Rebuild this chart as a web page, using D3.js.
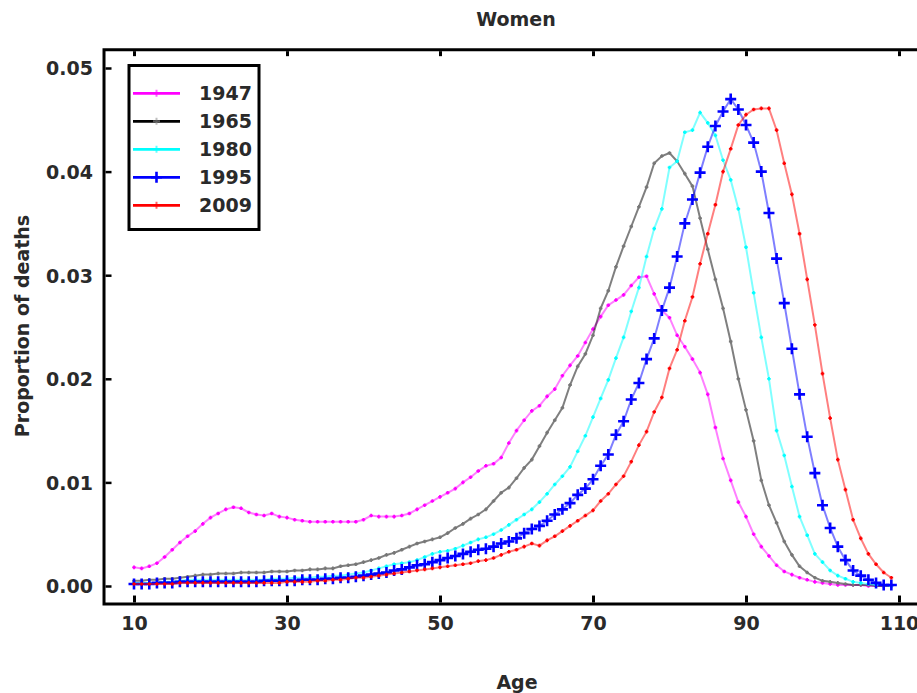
<!DOCTYPE html>
<html>
<head>
<meta charset="utf-8">
<script src="https://cdn.jsdelivr.net/npm/d3@7"></script>
<style>
  html, body { margin: 0; padding: 0; background: #fff; }
  svg text { font-family: "DejaVu Sans", sans-serif; font-size: 19px; font-weight: bold; fill: #2a2a2a; }
</style>
</head>
<body>
<svg id="chart" width="917" height="693"></svg>
<script>
// ages 10..109, one value per year
const ages = d3.range(10, 110);

const deaths1947 = [
  0.0018, 0.0017, 0.0019, 0.0022, 0.0028, 0.0035, 0.0042, 0.0048, 0.0053, 0.0060,
  0.0066, 0.0070, 0.0074, 0.0076, 0.0075, 0.0071, 0.0069, 0.0068, 0.0070, 0.0067,
  0.0066, 0.0064, 0.0063, 0.0062, 0.0062, 0.0062, 0.0062, 0.0062, 0.0062, 0.0062,
  0.0064, 0.0068, 0.0067, 0.0067, 0.0067, 0.0068, 0.0070, 0.0074, 0.0078, 0.0082,
  0.0086, 0.0090, 0.0094, 0.0100, 0.0105, 0.0111, 0.0116, 0.0118, 0.0124, 0.0138,
  0.0150, 0.0160, 0.0169, 0.0174, 0.0183, 0.0190, 0.0203, 0.0213, 0.0222, 0.0235,
  0.0248, 0.0260, 0.0271, 0.0276, 0.0281, 0.0290, 0.0298, 0.0299, 0.0282, 0.0266,
  0.0259, 0.0242, 0.0231, 0.0219, 0.0206, 0.0185, 0.0153, 0.0123, 0.0102, 0.0081,
  0.0067, 0.0050, 0.0038, 0.0029, 0.0020, 0.0014, 0.0011, 0.0008, 0.0006, 0.0004,
  0.0003, 0.0002, 0.0001, 0.0001, 0.0001, 0.0001, 0.0000, 0.0000, 0.0000, 0.0000
];

const deaths1965 = [
  0.0005, 0.0005, 0.0006, 0.0006, 0.0007, 0.0007, 0.0008, 0.0009, 0.0010, 0.0011,
  0.0011, 0.0012, 0.0012, 0.0012, 0.0013, 0.0013, 0.0013, 0.0013, 0.0014, 0.0014,
  0.0014, 0.0015, 0.0015, 0.0016, 0.0016, 0.0017, 0.0017, 0.0019, 0.0020, 0.0021,
  0.0023, 0.0025, 0.0027, 0.0030, 0.0032, 0.0035, 0.0038, 0.0041, 0.0043, 0.0045,
  0.0047, 0.0051, 0.0056, 0.0060, 0.0065, 0.0069, 0.0074, 0.0082, 0.0090, 0.0095,
  0.0104, 0.0114, 0.0122, 0.0135, 0.0148, 0.0160, 0.0172, 0.0194, 0.0212, 0.0224,
  0.0242, 0.0268, 0.0285, 0.0308, 0.0328, 0.0347, 0.0366, 0.0385, 0.0408, 0.0415,
  0.0418, 0.0410, 0.0398, 0.0386, 0.0355, 0.0325, 0.0296, 0.0268, 0.0236, 0.0200,
  0.0170, 0.0140, 0.0102, 0.0078, 0.0061, 0.0043, 0.0030, 0.0019, 0.0013, 0.0008,
  0.0005, 0.0004, 0.0003, 0.0002, 0.0001, 0.0001, 0.0001, 0.0000, 0.0000, 0.0000
];

const deaths1980 = [
  0.0003, 0.0003, 0.0003, 0.0003, 0.0004, 0.0004, 0.0005, 0.0006, 0.0006, 0.0006,
  0.0006, 0.0006, 0.0006, 0.0006, 0.0006, 0.0006, 0.0006, 0.0006, 0.0007, 0.0007,
  0.0007, 0.0008, 0.0008, 0.0008, 0.0009, 0.0009, 0.0010, 0.0010, 0.0011, 0.0012,
  0.0013, 0.0015, 0.0017, 0.0019, 0.0021, 0.0022, 0.0023, 0.0025, 0.0028, 0.0031,
  0.0033, 0.0034, 0.0036, 0.0039, 0.0042, 0.0045, 0.0047, 0.0050, 0.0054, 0.0059,
  0.0064, 0.0069, 0.0074, 0.0081, 0.0089, 0.0098, 0.0106, 0.0115, 0.0130, 0.0145,
  0.0163, 0.0181, 0.0199, 0.0220, 0.0240, 0.0265, 0.0288, 0.0318, 0.0345, 0.0364,
  0.0404, 0.0410, 0.0438, 0.0440, 0.0457, 0.0447, 0.0435, 0.0411, 0.0392, 0.0364,
  0.0327, 0.0283, 0.0240, 0.0200, 0.0150, 0.0126, 0.0096, 0.0067, 0.0049, 0.0031,
  0.0023, 0.0015, 0.0010, 0.0007, 0.0004, 0.0003, 0.0002, 0.0001, 0.0001, 0.0000
];

const deaths1995 = [
  0.0002, 0.0002, 0.0002, 0.0003, 0.0003, 0.0003, 0.0004, 0.0004, 0.0004, 0.0004,
  0.0004, 0.0004, 0.0004, 0.0004, 0.0004, 0.0004, 0.0004, 0.0005, 0.0005, 0.0005,
  0.0005, 0.0005, 0.0006, 0.0006, 0.0006, 0.0007, 0.0007, 0.0008, 0.0008, 0.0009,
  0.0010, 0.0011, 0.0012, 0.0013, 0.0015, 0.0016, 0.0018, 0.0020, 0.0021, 0.0023,
  0.0025, 0.0027, 0.0029, 0.0031, 0.0033, 0.0035, 0.0036, 0.0038, 0.0041, 0.0043,
  0.0046, 0.0051, 0.0055, 0.0058, 0.0063, 0.0069, 0.0074, 0.0080, 0.0088, 0.0094,
  0.0103, 0.0116, 0.0127, 0.0146, 0.0159, 0.0180, 0.0196, 0.0219, 0.0239, 0.0266,
  0.0288, 0.0318, 0.0350, 0.0373, 0.0399, 0.0424, 0.0444, 0.0458, 0.0470, 0.0460,
  0.0445, 0.0428, 0.0400, 0.0360, 0.0316, 0.0273, 0.0229, 0.0185, 0.0144, 0.0109,
  0.0078, 0.0056, 0.0038, 0.0025, 0.0015, 0.0010, 0.0006, 0.0003, 0.0001, 0.0001
];

const deaths2009 = [
  0.0002, 0.0002, 0.0002, 0.0002, 0.0002, 0.0002, 0.0003, 0.0003, 0.0003, 0.0003,
  0.0003, 0.0003, 0.0003, 0.0003, 0.0003, 0.0003, 0.0003, 0.0003, 0.0003, 0.0003,
  0.0004, 0.0004, 0.0004, 0.0004, 0.0005, 0.0005, 0.0006, 0.0006, 0.0007, 0.0008,
  0.0008, 0.0009, 0.0010, 0.0011, 0.0012, 0.0013, 0.0014, 0.0015, 0.0016, 0.0017,
  0.0018, 0.0019, 0.0020, 0.0021, 0.0022, 0.0024, 0.0025, 0.0027, 0.0030, 0.0033,
  0.0035, 0.0038, 0.0041, 0.0039, 0.0044, 0.0048, 0.0053, 0.0058, 0.0063, 0.0068,
  0.0073, 0.0082, 0.0089, 0.0098, 0.0106, 0.0120, 0.0136, 0.0149, 0.0168, 0.0182,
  0.0210, 0.0228, 0.0256, 0.0279, 0.0311, 0.0340, 0.0368, 0.0400, 0.0422, 0.0445,
  0.0455, 0.0460, 0.0461, 0.0461, 0.0440, 0.0408, 0.0378, 0.0340, 0.0296, 0.0252,
  0.0205, 0.0162, 0.0122, 0.0093, 0.0064, 0.0046, 0.0031, 0.0021, 0.0013, 0.0008
];

const years = ['1947', '1965', '1980', '1995', '2009'];
const colors = ['#ff00ff', '#000000', '#00ffff', '#0000ff', '#ff0000'];
const markerColors = ['#ff00ff', '#777777', '#00ffff', '#0000ff', '#ff0000'];
const xTicks = [10, 30, 50, 70, 90, 110];
const yTicks = [0, 0.01, 0.02, 0.03, 0.04, 0.05];

const series = years.map((yr, i) => ({
  year: yr,
  color: colors[i],
  markerColor: markerColors[i],
  big: yr === '1995',
  values: [deaths1947, deaths1965, deaths1980, deaths1995, deaths2009][i]
    .map((v, j) => ({ age: ages[j], v: v }))
}));

const svg = d3.select('#chart');

const x = d3.scaleLinear().domain([10, 110]).range([134, 899]);
const y = d3.scaleLinear().domain([0, 0.05]).range([586, 68]);

// frame: left, top and bottom (right side is cut off by the picture edge)
const xMin = 6.08, xMax = 114.5, yMin = -0.00174, yMax = 0.05177;
svg.append('path')
  .attr('d', `M${x(xMax)},${y(yMax)}H${x(xMin)}V${y(yMin)}H${x(xMax)}`)
  .attr('fill', 'none')
  .attr('stroke', '#000')
  .attr('stroke-width', 3);

// y axis
const yAxis = svg.append('g')
  .attr('transform', `translate(${x(xMin)},0)`)
  .call(d3.axisLeft(y).tickValues(yTicks).tickFormat(d3.format('.2f'))
    .tickSize(-6).tickPadding(11));
yAxis.select('.domain').remove();
yAxis.selectAll('.tick line').attr('stroke-width', 2.5).attr('transform', 'translate(1.5,0)');
yAxis.selectAll('.tick text').attr('font-size', null).attr('font-family', null).attr('dy', '0.36em');

// x axis (bottom) + top ticks
const xAxis = svg.append('g')
  .attr('transform', `translate(0,${y(yMin)})`)
  .call(d3.axisBottom(x).tickValues(xTicks).tickFormat(d3.format('d'))
    .tickSize(-7).tickPadding(12));
xAxis.select('.domain').remove();
xAxis.selectAll('.tick line').attr('stroke-width', 3).attr('transform', 'translate(0,-1.5)');
xAxis.selectAll('.tick text').attr('font-size', null).attr('font-family', null);

const xTop = svg.append('g')
  .attr('transform', `translate(0,${y(yMax)})`)
  .call(d3.axisTop(x).tickValues(xTicks).tickFormat('').tickSize(-5));
xTop.select('.domain').remove();
xTop.selectAll('.tick line').attr('stroke-width', 3).attr('transform', 'translate(0,1.5)');

// lines
const line = d3.line().x(d => x(d.age)).y(d => y(d.v));

const plusPath = (s) => `M${-s},0H${s}M0,${-s}V${s}`;

series.forEach(s => {
  const g = svg.append('g').attr('class', 'series');
  g.append('path')
    .datum(s.values)
    .attr('d', line)
    .attr('fill', 'none')
    .attr('stroke', s.color)
    .attr('stroke-opacity', 0.5)
    .attr('stroke-width', 2);
  g.selectAll('path.mark')
    .data(s.values)
    .enter()
    .append('path')
    .attr('class', 'mark')
    .attr('transform', d => `translate(${x(d.age)},${y(d.v)})`)
    .attr('d', plusPath(s.big ? 5.5 : 1.8))
    .attr('fill', 'none')
    .attr('stroke', s.markerColor)
    .attr('stroke-width', s.big ? 2.6 : 1.8);
});

// legend
const legend = svg.append('g').attr('transform', 'translate(129,65.5)');
legend.append('rect')
  .attr('width', 130)
  .attr('height', 164)
  .attr('fill', '#fff')
  .attr('stroke', '#000')
  .attr('stroke-width', 3);

series.forEach((s, i) => {
  const row = legend.append('g').attr('transform', `translate(0,${27.8 + i * 28})`);
  row.append('line')
    .attr('x1', 4).attr('x2', 51)
    .attr('stroke', s.color)
    .attr('stroke-width', 2.7);
  row.append('path')
    .attr('transform', 'translate(27.5,0)')
    .attr('d', plusPath(s.big ? 5.5 : 3.5))
    .attr('stroke', s.big ? s.markerColor : d3.color(s.markerColor).brighter(0.6))
    .attr('stroke-opacity', s.big ? 1 : 0.6)
    .attr('stroke-width', s.big ? 2.6 : 2);
  row.append('text')
    .attr('x', 70)
    .attr('dy', '0.36em')
    .text(s.year);
});

// titles
svg.append('text')
  .attr('x', 516)
  .attr('y', 26)
  .attr('text-anchor', 'middle')
  .text('Women');

svg.append('text')
  .attr('x', 517)
  .attr('y', 689)
  .attr('text-anchor', 'middle')
  .text('Age');

svg.append('text')
  .attr('transform', 'translate(22,326) rotate(-90)')
  .attr('text-anchor', 'middle')
  .attr('dy', '0.36em')
  .text('Proportion of deaths');
</script>
</body>
</html>
